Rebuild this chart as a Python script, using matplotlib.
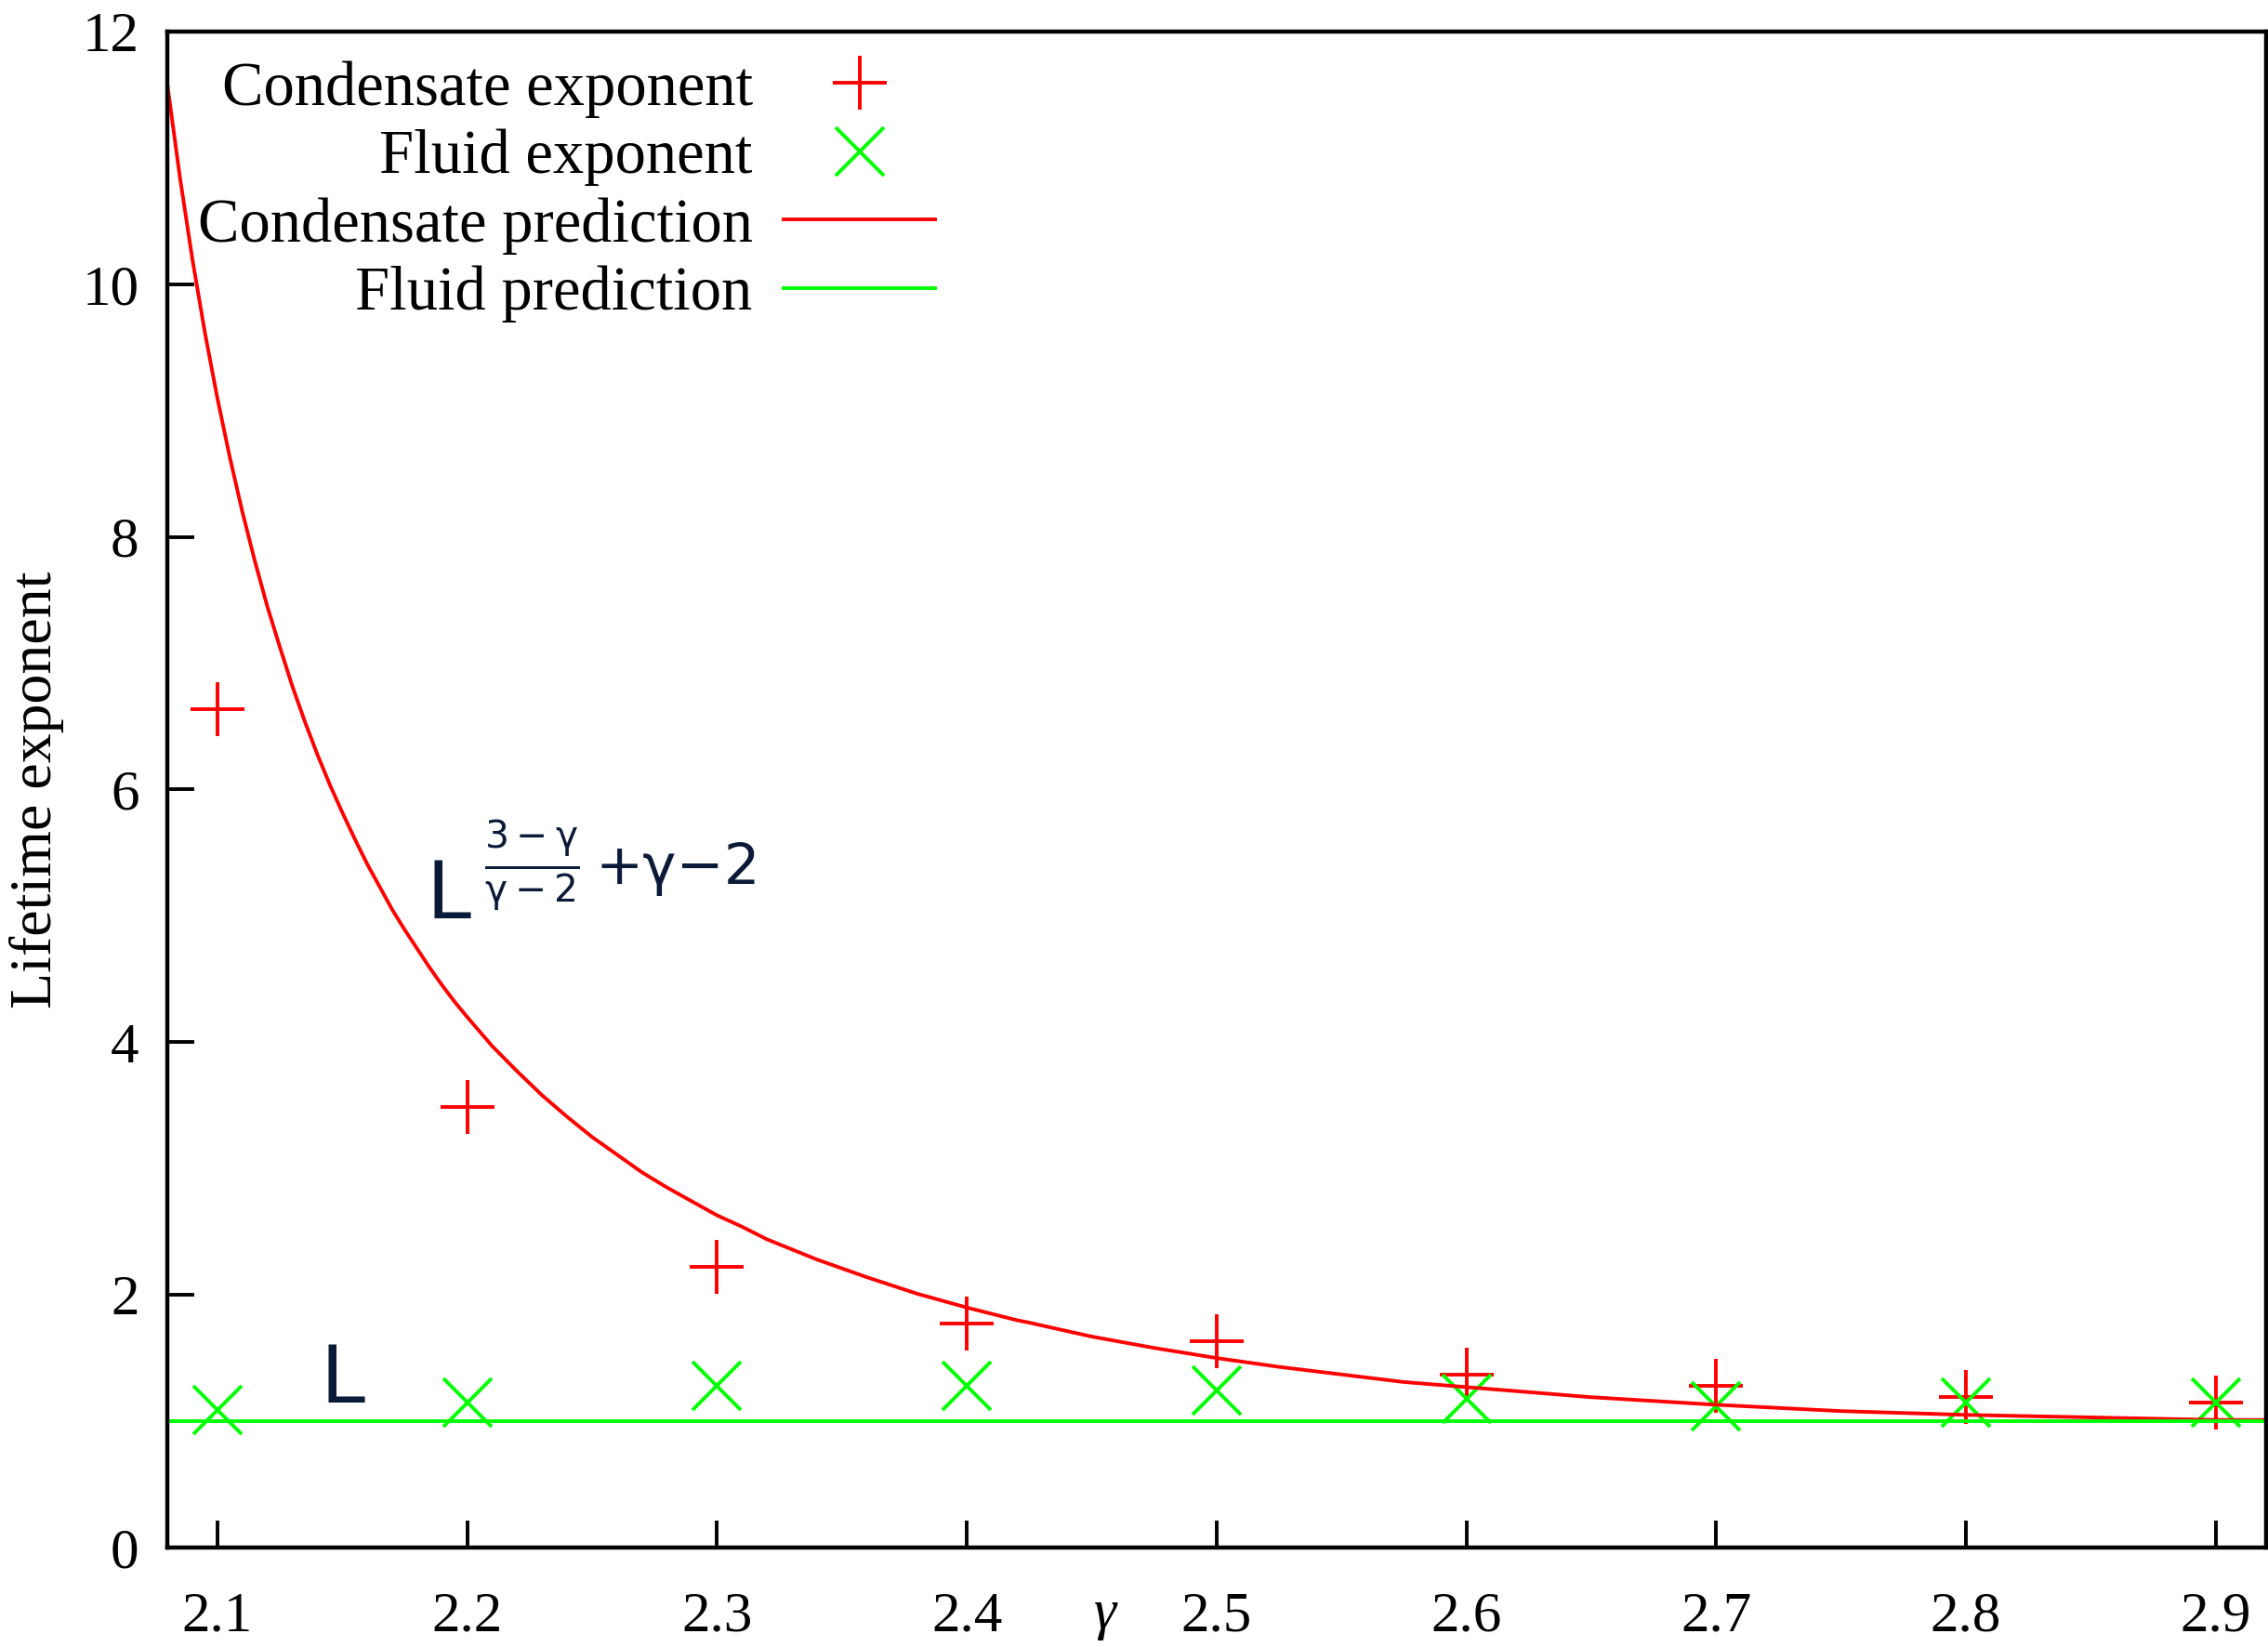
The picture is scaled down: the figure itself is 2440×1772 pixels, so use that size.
import matplotlib
matplotlib.use("Agg")
import matplotlib.pyplot as plt
import matplotlib.transforms as mtransforms

# measured exponents
gamma = [2.1, 2.2, 2.3, 2.4, 2.5, 2.6, 2.7, 2.8, 2.9]
condensate_exp = [6.64, 3.49, 2.22, 1.77, 1.63, 1.37, 1.28, 1.19, 1.15]
fluid_exp = [1.09, 1.15, 1.28, 1.28, 1.24, 1.18, 1.12, 1.15, 1.15]

# prediction curves
pred_gamma = [2.080, 2.085, 2.090, 2.095, 2.100, 2.105, 2.110, 2.115, 2.120, 2.125,
              2.130, 2.135, 2.140, 2.145, 2.150, 2.155, 2.160, 2.165, 2.170, 2.175,
              2.180, 2.185, 2.190, 2.195, 2.200, 2.210, 2.220, 2.230, 2.240, 2.250,
              2.260, 2.270, 2.280, 2.290, 2.300, 2.310, 2.320, 2.330, 2.340, 2.350,
              2.360, 2.380, 2.400, 2.420, 2.425, 2.450, 2.475, 2.500, 2.525, 2.550,
              2.575, 2.600, 2.650, 2.700, 2.750, 2.800, 2.850, 2.900, 2.920]
condensate_pred = [11.58, 10.85, 10.20, 9.62, 9.10, 8.63, 8.20, 7.81, 7.45, 7.13,
                   6.82, 6.54, 6.28, 6.04, 5.82, 5.61, 5.41, 5.23, 5.05, 4.89,
                   4.74, 4.59, 4.45, 4.32, 4.20, 3.97, 3.77, 3.58, 3.41, 3.25,
                   3.11, 2.97, 2.85, 2.74, 2.63, 2.54, 2.44, 2.36, 2.28, 2.21,
                   2.14, 2.01, 1.90, 1.80, 1.78, 1.67, 1.58, 1.50, 1.43, 1.37,
                   1.31, 1.27, 1.19, 1.13, 1.08, 1.05, 1.03, 1.01, 1.01]
fluid_gamma = [2.08, 2.92]
fluid_pred = [1.0, 1.0]

xticks = [2.1, 2.2, 2.3, 2.4, 2.5, 2.6, 2.7, 2.8, 2.9]
yticks = [0, 2, 4, 6, 8, 10, 12]

plt.rcParams['font.family'] = ['Liberation Serif', 'DejaVu Serif']
plt.rcParams['mathtext.fontset'] = 'dejavusans'

fig = plt.figure(figsize=(12.2, 8.86), dpi=200)
ax = fig.add_axes([0.0738, 0.0604, 0.9252, 0.9204])

red = '#ff0000'
green = '#00ff00'
navy = '#0b1a38'

ax.plot(gamma, condensate_exp, ls='none', marker='+', ms=21, mew=1.4,
        color=red, label='Condensate exponent', clip_on=False)
ax.plot(gamma, fluid_exp, ls='none', marker='x', ms=19, mew=1.4,
        color=green, label='Fluid exponent', clip_on=False)
ax.plot(pred_gamma, condensate_pred, color=red, lw=1.4, solid_joinstyle='round',
        label='Condensate prediction')
ax.plot(fluid_gamma, fluid_pred, color=green, lw=1.4, label='Fluid prediction')

ax.set_xlim(2.08, 2.92)
ax.set_ylim(0, 12)
ax.set_xticks(xticks)
ax.set_xticklabels([f'{v:.1f}' for v in xticks])
ax.set_yticks(yticks)
ax.tick_params(direction='in', length=10.5, width=1.4, labelsize=22)
ax.tick_params(axis='x', pad=17)
ax.tick_params(axis='y', pad=11)
for s in ax.spines.values():
    s.set_linewidth(1.6)

ax.set_ylabel('Lifetime exponent', fontsize=23)
ax.yaxis.set_label_coords(-0.049, 0.5)

trans = mtransforms.blended_transform_factory(ax.transData, ax.transAxes)
ax.text(2.4555, -0.0533, 'γ', transform=trans, fontsize=22, style='italic',
        ha='center', va='baseline')

# annotations of the two predictions
sans = ['DejaVu Sans']
ax.text(2.1837, 4.98, 'L', family=sans, fontsize=31, color=navy,
        ha='left', va='baseline')
ax.text(2.2068, 5.40, r'$\frac{3-\mathrm{\gamma}}{\mathrm{\gamma}-2}$', fontsize=21,
        color=navy, ha='left', va='center')
ax.text(2.2514, 5.25, '+γ\u22122', family=sans, fontsize=22, color=navy,
        ha='left', va='baseline')
ax.text(2.1413, 1.15, 'L', family=sans, fontsize=31, color=navy,
        ha='left', va='baseline')

leg = ax.legend(loc='upper right', bbox_to_anchor=(0.366, 0.981), frameon=False,
                markerfirst=False, numpoints=1, fontsize=24, handlelength=2.45,
                handletextpad=0.5, labelspacing=0.18, borderpad=0, borderaxespad=0)

fig.savefig('out.png', dpi=200)
